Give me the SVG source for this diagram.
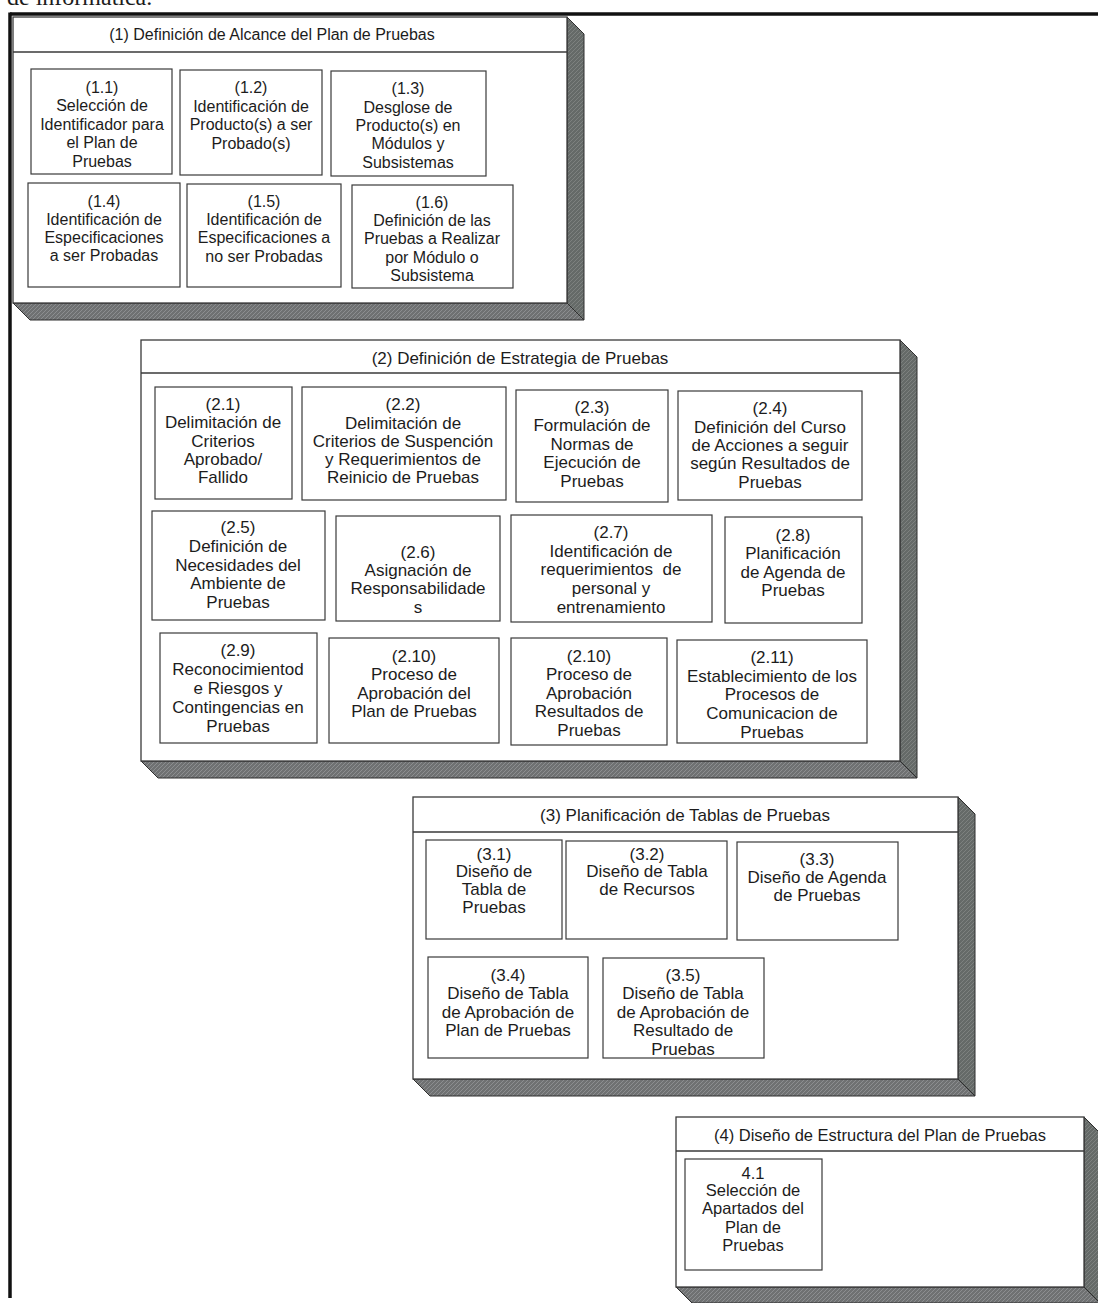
<svg xmlns="http://www.w3.org/2000/svg" width="1098" height="1303" viewBox="0 0 1098 1303">
<style>
.front{fill:#ffffff;stroke:#3a3a3a;stroke-width:1.3}
.hdr{stroke:#3a3a3a;stroke-width:1.3}
.side{fill:url(#texS);stroke:#2e2e2e;stroke-width:1}
.bot{fill:url(#texB);stroke:#2e2e2e;stroke-width:1}
.node rect{fill:#ffffff;stroke:#3a3a3a;stroke-width:1.2}
text{font-family:"Liberation Sans",Arial,sans-serif;fill:#1c1c1c;text-anchor:middle}
.s16{font-size:16px}
.s17{font-size:17px}
.s165{font-size:16.5px}
</style>
<defs>
<pattern id="texS" width="4" height="4" patternUnits="userSpaceOnUse">
<rect width="4" height="4" fill="#656a68"/>
<path d="M0 4L4 0" stroke="#7d817f" stroke-width="1"/>
</pattern>
<pattern id="texB" width="4" height="4" patternUnits="userSpaceOnUse">
<rect width="4" height="4" fill="#6f7172"/>
<path d="M0 4L4 0" stroke="#8c8e90" stroke-width="1"/>
</pattern>
</defs>
<rect width="1098" height="1303" fill="#ffffff"/>
<text x="7" y="5" style="font-family:'Liberation Serif',serif;font-size:24px;text-anchor:start">de informática.</text>
<g id="frame">
<line x1="10" y1="14" x2="1098" y2="14" stroke="#111" stroke-width="3.5"/>
<line x1="10" y1="12.5" x2="10" y2="1298" stroke="#111" stroke-width="3.5"/>
</g>

<g id="group1">
<polygon class="side" points="567,17 584,34 584,320 567,303"/>
<polygon class="bot" points="13,303 567,303 584,320 30,320"/>
<rect class="front" x="13" y="17" width="554" height="286"/>
<line class="hdr" x1="13" y1="52" x2="567" y2="52"/>
<text class="s16" x="272" y="39.5">(1) Definición de Alcance del Plan de Pruebas</text>
<g id="n1_1" class="node"><rect x="31" y="69" width="141" height="105"/>
<text class="s16"><tspan x="102" y="92.5">(1.1)</tspan><tspan x="102" y="110.5">Selección de</tspan><tspan x="102" y="129.5">Identificador para</tspan><tspan x="102" y="148">el Plan de</tspan><tspan x="102" y="166.5">Pruebas</tspan></text></g>
<g id="n1_2" class="node"><rect x="180" y="70" width="142" height="105"/>
<text class="s16"><tspan x="251" y="92.5">(1.2)</tspan><tspan x="251" y="111.5">Identificación de</tspan><tspan x="251" y="129.5">Producto(s) a ser</tspan><tspan x="251" y="148.5">Probado(s)</tspan></text></g>
<g id="n1_3" class="node"><rect x="331" y="71" width="155" height="105"/>
<text class="s16"><tspan x="408" y="93.5">(1.3)</tspan><tspan x="408" y="112.5">Desglose de</tspan><tspan x="408" y="130.5">Producto(s) en</tspan><tspan x="408" y="148.5">Módulos y</tspan><tspan x="408" y="167.5">Subsistemas</tspan></text></g>
<g id="n1_4" class="node"><rect x="28" y="183" width="152" height="104"/>
<text class="s16"><tspan x="104" y="206.5">(1.4)</tspan><tspan x="104" y="224.5">Identificación de</tspan><tspan x="104" y="242.5">Especificaciones</tspan><tspan x="104" y="260.5">a ser Probadas</tspan></text></g>
<g id="n1_5" class="node"><rect x="187" y="184" width="154" height="103"/>
<text class="s16"><tspan x="264" y="206.5">(1.5)</tspan><tspan x="264" y="224.5">Identificación de</tspan><tspan x="264" y="242.5">Especificaciones a</tspan><tspan x="264" y="261.5">no ser Probadas</tspan></text></g>
<g id="n1_6" class="node"><rect x="352" y="185" width="161" height="103"/>
<text class="s16"><tspan x="432" y="207.5">(1.6)</tspan><tspan x="432" y="225.5">Definición de las</tspan><tspan x="432" y="243.5">Pruebas a Realizar</tspan><tspan x="432" y="262.5">por Módulo o</tspan><tspan x="432" y="280.5">Subsistema</tspan></text></g>
</g>

<g id="group2">
<polygon class="side" points="900,340 917,357 917,778 900,761"/>
<polygon class="bot" points="141,761 900,761 917,778 158,778"/>
<rect class="front" x="141" y="340" width="759" height="421"/>
<line class="hdr" x1="141" y1="373" x2="900" y2="373"/>
<text class="s17" x="520" y="364">(2) Definición de Estrategia de Pruebas</text>
<g id="n2_1" class="node"><rect x="155" y="387" width="137" height="112"/>
<text class="s17"><tspan x="223" y="410">(2.1)</tspan><tspan x="223" y="428">Delimitación de</tspan><tspan x="223" y="447">Criterios</tspan><tspan x="223" y="465">Aprobado/</tspan><tspan x="223" y="483">Fallido</tspan></text></g>
<g id="n2_2" class="node"><rect x="302" y="387" width="204" height="113"/>
<text class="s17"><tspan x="403" y="410">(2.2)</tspan><tspan x="403" y="429">Delimitación de</tspan><tspan x="403" y="447">Criterios de Suspención</tspan><tspan x="403" y="465">y Requerimientos de</tspan><tspan x="403" y="483">Reinicio de Pruebas</tspan></text></g>
<g id="n2_3" class="node"><rect x="516" y="390" width="152" height="112"/>
<text class="s17"><tspan x="592" y="413">(2.3)</tspan><tspan x="592" y="431">Formulación de</tspan><tspan x="592" y="450">Normas de</tspan><tspan x="592" y="468">Ejecución de</tspan><tspan x="592" y="487">Pruebas</tspan></text></g>
<g id="n2_4" class="node"><rect x="678" y="391" width="184" height="109"/>
<text class="s17"><tspan x="770" y="414">(2.4)</tspan><tspan x="770" y="433">Definición del Curso</tspan><tspan x="770" y="451">de Acciones a seguir</tspan><tspan x="770" y="469">según Resultados de</tspan><tspan x="770" y="488">Pruebas</tspan></text></g>
<g id="n2_5" class="node"><rect x="152" y="511" width="173" height="109"/>
<text class="s17"><tspan x="238" y="533">(2.5)</tspan><tspan x="238" y="552">Definición de</tspan><tspan x="238" y="571">Necesidades del</tspan><tspan x="238" y="589">Ambiente de</tspan><tspan x="238" y="608">Pruebas</tspan></text></g>
<g id="n2_6" class="node"><rect x="336" y="516" width="164" height="105"/>
<text class="s17"><tspan x="418" y="558">(2.6)</tspan><tspan x="418" y="576">Asignación de</tspan><tspan x="418" y="594">Responsabilidade</tspan><tspan x="418" y="613">s</tspan></text></g>
<g id="n2_7" class="node"><rect x="511" y="515" width="201" height="107"/>
<text class="s17"><tspan x="611" y="538">(2.7)</tspan><tspan x="611" y="557">Identificación de</tspan><tspan x="611" y="575">requerimientos&#160; de</tspan><tspan x="611" y="594">personal y</tspan><tspan x="611" y="613">entrenamiento</tspan></text></g>
<g id="n2_8" class="node"><rect x="725" y="517" width="137" height="106"/>
<text class="s17"><tspan x="793" y="541">(2.8)</tspan><tspan x="793" y="559">Planificación</tspan><tspan x="793" y="578">de Agenda de</tspan><tspan x="793" y="596">Pruebas</tspan></text></g>
<g id="n2_9" class="node"><rect x="160" y="633" width="157" height="110"/>
<text class="s17"><tspan x="238" y="656">(2.9)</tspan><tspan x="238" y="675">Reconocimientod</tspan><tspan x="238" y="694">e Riesgos y</tspan><tspan x="238" y="713">Contingencias en</tspan><tspan x="238" y="732">Pruebas</tspan></text></g>
<g id="n2_10a" class="node"><rect x="329" y="638" width="170" height="105"/>
<text class="s17"><tspan x="414" y="662">(2.10)</tspan><tspan x="414" y="680">Proceso de</tspan><tspan x="414" y="699">Aprobación del</tspan><tspan x="414" y="717">Plan de Pruebas</tspan></text></g>
<g id="n2_10b" class="node"><rect x="511" y="638" width="156" height="107"/>
<text class="s17"><tspan x="589" y="662">(2.10)</tspan><tspan x="589" y="680">Proceso de</tspan><tspan x="589" y="699">Aprobación</tspan><tspan x="589" y="717">Resultados de</tspan><tspan x="589" y="736">Pruebas</tspan></text></g>
<g id="n2_11" class="node"><rect x="677" y="640" width="190" height="103"/>
<text class="s17"><tspan x="772" y="663">(2.11)</tspan><tspan x="772" y="682">Establecimiento de los</tspan><tspan x="772" y="700">Procesos de</tspan><tspan x="772" y="719">Comunicacion de</tspan><tspan x="772" y="738">Pruebas</tspan></text></g>
</g>

<g id="group3">
<polygon class="side" points="958,797 975,814 975,1096 958,1079"/>
<polygon class="bot" points="413,1079 958,1079 975,1096 430,1096"/>
<rect class="front" x="413" y="797" width="545" height="282"/>
<line class="hdr" x1="413" y1="832" x2="958" y2="832"/>
<text class="s17" x="685" y="821">(3) Planificación de Tablas de Pruebas</text>
<g id="n3_1" class="node"><rect x="426" y="840" width="136" height="99"/>
<text class="s17"><tspan x="494" y="860">(3.1)</tspan><tspan x="494" y="877">Diseño de</tspan><tspan x="494" y="895">Tabla de</tspan><tspan x="494" y="913">Pruebas</tspan></text></g>
<g id="n3_2" class="node"><rect x="566" y="841" width="161" height="98"/>
<text class="s17"><tspan x="647" y="860">(3.2)</tspan><tspan x="647" y="877">Diseño de Tabla</tspan><tspan x="647" y="895">de Recursos</tspan></text></g>
<g id="n3_3" class="node"><rect x="737" y="842" width="161" height="98"/>
<text class="s17"><tspan x="817" y="865">(3.3)</tspan><tspan x="817" y="883">Diseño de Agenda</tspan><tspan x="817" y="901">de Pruebas</tspan></text></g>
<g id="n3_4" class="node"><rect x="428" y="957" width="160" height="101"/>
<text class="s17"><tspan x="508" y="981">(3.4)</tspan><tspan x="508" y="999">Diseño de Tabla</tspan><tspan x="508" y="1018">de Aprobación de</tspan><tspan x="508" y="1036">Plan de Pruebas</tspan></text></g>
<g id="n3_5" class="node"><rect x="603" y="958" width="161" height="100"/>
<text class="s17"><tspan x="683" y="981">(3.5)</tspan><tspan x="683" y="999">Diseño de Tabla</tspan><tspan x="683" y="1018">de Aprobación de</tspan><tspan x="683" y="1036">Resultado de</tspan><tspan x="683" y="1055">Pruebas</tspan></text></g>
</g>

<g id="group4">
<polygon class="side" points="1084,1117 1100,1133 1100,1303 1084,1287"/>
<polygon class="bot" points="676,1287 1084,1287 1100,1303 692,1303"/>
<rect class="front" x="676" y="1117" width="408" height="170"/>
<line class="hdr" x1="676" y1="1151" x2="1084" y2="1151"/>
<text class="s165" x="880" y="1141">(4) Diseño de Estructura del Plan de Pruebas</text>
<g id="n4_1" class="node"><rect x="685" y="1159" width="137" height="111"/>
<text class="s165"><tspan x="753" y="1179">4.1</tspan><tspan x="753" y="1196">Selección de</tspan><tspan x="753" y="1214">Apartados del</tspan><tspan x="753" y="1233">Plan de</tspan><tspan x="753" y="1251">Pruebas</tspan></text></g>
</g>
<g id="connectors"/>
</svg>
